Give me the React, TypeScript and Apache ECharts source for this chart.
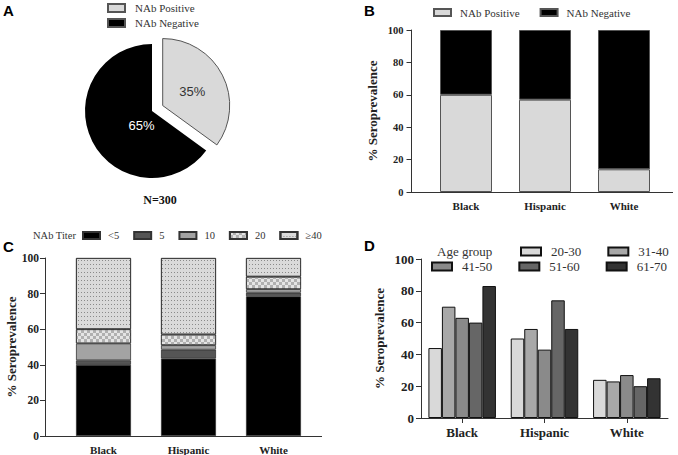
import React, { useEffect, useRef } from "react";
import * as echarts from "echarts";

const raceCategories = ["Black", "Hispanic", "White"];
const pieNames = ["NAb Positive", "NAb Negative"];
const pieValues = [35, 65];
const nabPositive = [60, 57, 14];
const nabNegative = [40, 43, 86];
const titerNames = ["<5", "5", "10", "20", "≥40"];
const titerLt5 = [40, 43.5, 78.5];
const titer5 = [2.5, 5, 2];
const titer10 = [9.5, 2.5, 2];
const titer20 = [8, 6, 7];
const titerGe40 = [40, 43, 10.5];
const ageGroups = ["20-30", "31-40", "41-50", "51-60", "61-70"];
const age2030 = [44, 50, 24];
const age3140 = [70, 56, 23];
const age4150 = [63, 43, 27];
const age5160 = [60, 74, 20];
const age6170 = [83, 56, 25];

const SERIF = "'Liberation Serif', 'Times New Roman', serif";
const SANS = "'Liberation Sans', Arial, sans-serif";

function yAxisCfg(gridIndex: number, offset: number, labelSize: number, margin: number, nameGap: number) {
  return {
    type: "value",
    gridIndex,
    min: 0,
    max: 100,
    interval: 20,
    offset,
    name: "% Seroprevalence",
    nameLocation: "middle",
    nameGap,
    nameTextStyle: { fontFamily: SERIF, fontWeight: "bold", fontSize: 13, color: "#222" },
    axisLine: { show: true, lineStyle: { color: "#333", width: 1 } },
    axisTick: { show: true, length: 5, lineStyle: { color: "#333" } },
    axisLabel: { fontFamily: SERIF, fontWeight: "bold", fontSize: labelSize, color: "#222", margin },
    splitLine: { show: false },
  };
}

function xAxisCfg(gridIndex: number, showLine: boolean, tick: boolean, labelSize: number) {
  return {
    type: "category",
    gridIndex,
    data: raceCategories,
    axisLine: { show: showLine, lineStyle: { color: "#333", width: 1 } },
    axisTick: { show: tick, alignWithLabel: true, length: 5, lineStyle: { color: "#333" } },
    axisLabel: { fontFamily: SERIF, fontWeight: "bold", fontSize: labelSize, color: "#222", margin: 8 },
  };
}

const titerStyles: any[] = [
  { color: "#000000" },
  { color: "#555555" },
  { color: "#a3a3a3" },
  {
    color: "#e4e4e4",
    decal: { symbol: "rect", symbolSize: 1, color: "#b0b0b0", dashArrayX: [[3, 3], [0, 3, 3, 0]], dashArrayY: [3, 0] },
  },
  {
    color: "#dadada",
    decal: { symbol: "rect", symbolSize: 1, color: "#8a8a8a", dashArrayX: [1, 2], dashArrayY: [1, 3] },
  },
];
const titerData = [titerLt5, titer5, titer10, titer20, titerGe40];
const ageColors = ["#d9d9d9", "#a8a8a8", "#8a8a8a", "#666666", "#333333"];
const ageData = [age2030, age3140, age4150, age5160, age6170];

const legendBase = { padding: 0, icon: "rect", width: 400 };

export default function App() {
  const ref = useRef<HTMLDivElement>(null);
  useEffect(() => {
    if (!ref.current) return;
    const chart = echarts.init(ref.current, null, { renderer: "svg", width: 678, height: 455 });
    const option: any = {
      animation: false,
      backgroundColor: "#fff",
      grid: [
        { left: 426.5, width: 237, top: 30, height: 162 },
        { left: 61, width: 255, top: 258, height: 178 },
        { left: 421, width: 247, top: 259, height: 159 },
      ],
      xAxis: [xAxisCfg(0, false, false, 11), xAxisCfg(1, false, false, 11), xAxisCfg(2, true, true, 13)],
      yAxis: [yAxisCfg(0, 15, 10.5, 8, 33), yAxisCfg(1, 16, 11.5, 6, 27), yAxisCfg(2, 0, 13, 7, 35)],
      legend: [
        {
          ...legendBase,
          data: pieNames,
          orient: "vertical",
          left: 107,
          top: 2,
          itemWidth: 17,
          itemHeight: 8,
          itemGap: 3,
          textStyle: { fontFamily: SERIF, fontSize: 11, color: "#333", lineHeight: 12, padding: [0, 0, 0, 5] },
        },
        {
          ...legendBase,
          data: pieNames,
          left: 433,
          top: 7,
          itemWidth: 17,
          itemHeight: 7,
          itemGap: 20,
          textStyle: { fontFamily: SERIF, fontSize: 11, color: "#333", padding: [0, 0, 0, 4] },
        },
        {
          ...legendBase,
          data: titerNames,
          left: 82,
          top: 230,
          itemWidth: 17,
          itemHeight: 7,
          itemGap: 14,
          textStyle: { fontFamily: SERIF, fontSize: 10.5, color: "#333", padding: [0, 0, 0, 3] },
        },
        {
          ...legendBase,
          data: ageGroups.slice(0, 2),
          left: 520,
          top: 245,
          itemWidth: 20,
          itemHeight: 8,
          itemGap: 26,
          textStyle: { fontFamily: SERIF, fontSize: 13, color: "#333", padding: [0, 0, 0, 5] },
        },
        {
          ...legendBase,
          data: ageGroups.slice(2),
          left: 431,
          top: 260,
          itemWidth: 20,
          itemHeight: 8,
          itemGap: 26,
          textStyle: { fontFamily: SERIF, fontSize: 13, color: "#333", padding: [0, 0, 0, 5] },
        },
      ],
      graphic: [
        { type: "text", left: 3, top: 3, style: { text: "A", fontFamily: SANS, fontWeight: "bold", fontSize: 15, fill: "#000" } },
        { type: "text", left: 364, top: 3, style: { text: "B", fontFamily: SANS, fontWeight: "bold", fontSize: 15, fill: "#000" } },
        { type: "text", left: 3, top: 239, style: { text: "C", fontFamily: SANS, fontWeight: "bold", fontSize: 15, fill: "#000" } },
        { type: "text", left: 364, top: 238, style: { text: "D", fontFamily: SANS, fontWeight: "bold", fontSize: 15, fill: "#000" } },
        {
          type: "text",
          x: 160,
          y: 200,
          style: { text: "N=300", fontFamily: SERIF, fontWeight: "bold", fontSize: 12, fill: "#111", align: "center", verticalAlign: "middle" },
        },
        {
          type: "text",
          left: 33,
          top: 230,
          style: { text: "NAb Titer", fontFamily: SERIF, fontSize: 10.5, fill: "#333" },
        },
        {
          type: "text",
          left: 437,
          top: 245,
          style: { text: "Age group", fontFamily: SERIF, fontSize: 13, fill: "#333" },
        },
        { type: "line", shape: { x1: 411, y1: 192.5, x2: 673, y2: 192.5 }, style: { stroke: "#333", lineWidth: 1 } },
        { type: "line", shape: { x1: 45, y1: 436.5, x2: 322, y2: 436.5 }, style: { stroke: "#333", lineWidth: 1 } },
      ],
      series: [
        {
          type: "pie",
          center: [152, 111],
          radius: 67,
          startAngle: 90,
          selectedMode: "single",
          selectedOffset: 12,
          label: { show: true, position: "inside", formatter: "{c}%", fontFamily: SANS, fontSize: 13 },
          labelLine: { show: false },
          labelLayout: (p: any) => (p.dataIndex === 1 ? { dx: 22, dy: -2 } : { dx: -3, dy: 3 }),
          data: [
            {
              name: pieNames[0],
              value: pieValues[0],
              selected: true,
              itemStyle: { color: "#d9d9d9", borderColor: "#555", borderWidth: 1 },
              label: { color: "#333" },
            },
            {
              name: pieNames[1],
              value: pieValues[1],
              itemStyle: { color: "#000", borderColor: "#000", borderWidth: 0 },
              label: { color: "#fff" },
            },
          ],
        },
        {
          type: "bar",
          name: pieNames[0],
          xAxisIndex: 0,
          yAxisIndex: 0,
          stack: "b",
          barWidth: 52,
          data: nabPositive,
          itemStyle: { color: "#d9d9d9", borderColor: "#555", borderWidth: 1 },
        },
        {
          type: "bar",
          name: pieNames[1],
          xAxisIndex: 0,
          yAxisIndex: 0,
          stack: "b",
          barWidth: 52,
          data: nabNegative,
          itemStyle: { color: "#000", borderColor: "#555", borderWidth: 1 },
        },
        ...titerNames.map((n, i) => ({
          type: "bar",
          name: n,
          xAxisIndex: 1,
          yAxisIndex: 1,
          stack: "c",
          barWidth: 55,
          data: titerData[i],
          itemStyle: { ...titerStyles[i], borderColor: "#333", borderWidth: 0.8 },
        })),
        ...ageGroups.map((n, i) => ({
          type: "bar",
          name: n,
          xAxisIndex: 2,
          yAxisIndex: 2,
          barGap: "0%",
          barCategoryGap: "18%",
          data: ageData[i],
          itemStyle: { color: ageColors[i], borderColor: "#111", borderWidth: 1 },
        })),
      ],
    };
    chart.setOption(option);
    return () => chart.dispose();
  }, []);
  return (
    <div
      ref={ref}
      style={{ position: "absolute", left: 0, top: 0, width: 678, height: 455, background: "#fff" }}
    />
  );
}
